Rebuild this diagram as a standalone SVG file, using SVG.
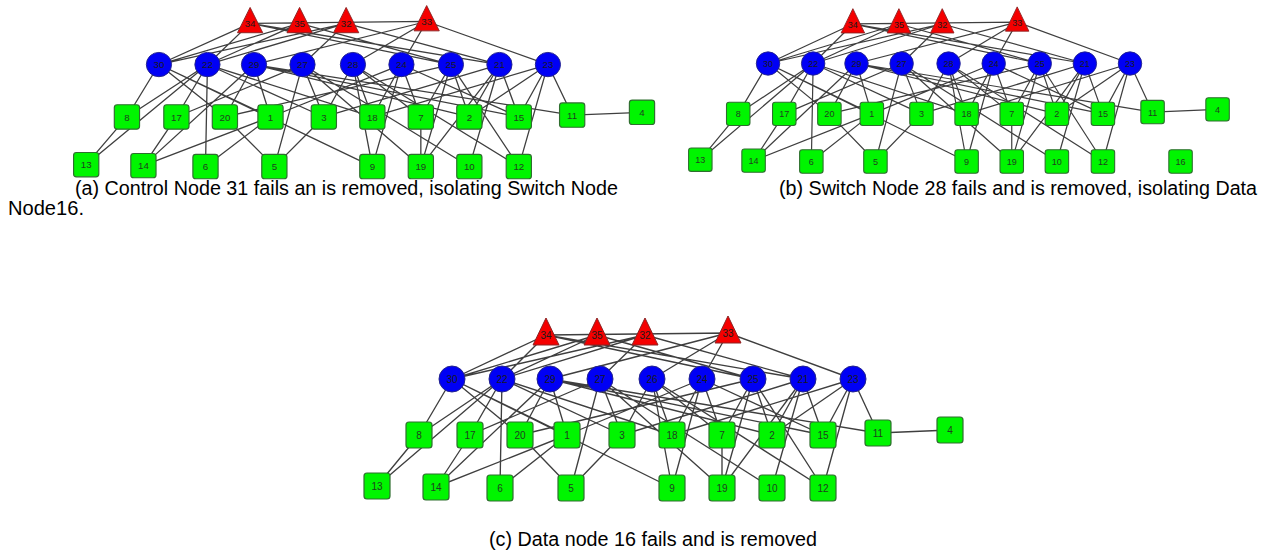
<svg xmlns="http://www.w3.org/2000/svg" width="1270" height="552" viewBox="0 0 1270 552">
<style>
.e path{stroke:#3f3f3f;stroke-width:1.35;fill:none}
.c{fill:#0000f5;stroke:#23238c;stroke-width:1}
.t{fill:#f50000;stroke:#8c2323;stroke-width:1}
.s{fill:#00f500;stroke:#2f6e2f;stroke-width:1.2}
text.l{font-family:"Liberation Sans",Arial,sans-serif;font-size:10px;text-anchor:middle;fill:#1a1a1a}
text.d{fill:#1f3f1f}
.cap{font-family:"Liberation Sans Narrow","Liberation Sans",Arial,sans-serif;font-size:20px;fill:#000}
</style>
<rect width="1270" height="552" fill="#fff"/>

<!-- Panel (a) -->
<g id="panel-a" transform="matrix(0.970 0 0 0.936 -279.5 -290.2)">
<g id="a-edges" class="e">
<path d="M546 335L452 379M546 335L502 379M546 335L753 379M546 335L803 379M546 335L728 333M597 335L452 379M597 335L502 379M597 335L753 379M645 335L502 379M645 335L452 379M645 335L600 379M645 335L803 379M728 333L550 379M728 333L652 379M728 333L702 379M728 333L853 379"/>
<path d="M452 379L419 435M452 379L520 435M452 379L567 435M452 379L672 488M502 379L419 435M502 379L377 486M502 379L470 435M502 379L500 488M502 379L622 435M502 379L672 435M550 379L436 487M550 379L520 435M550 379L567 435M550 379L878 433M550 379L772 435M550 379L823 435M600 379L470 435M600 379L571 488M600 379L622 435M600 379L722 488M600 379L772 488"/>
<path d="M652 379L622 435M652 379L672 435M652 379L722 435M652 379L823 488M652 379L672 488M702 379L672 488M702 379L672 435M702 379L722 435M702 379L567 435M702 379L823 435M753 379L722 435M753 379L772 435M753 379L722 488M753 379L520 435M753 379L823 488M803 379L772 435M803 379L823 435M803 379L772 488M803 379L722 488M803 379L622 435M853 379L772 435M853 379L823 435M853 379L878 433M853 379L823 488M853 379L672 435"/>
<path d="M377 486L419 435M436 487L470 435M436 487L567 435M500 488L567 435M571 488L520 435M571 488L622 435M878 433L950 430M722 488L722 435"/>
</g>
<g id="a-n34"><path class="t" d="M546 318L559 345L533 345Z"/><text class="l" x="546" y="339">34</text></g>
<g id="a-n35"><path class="t" d="M597 318L610 345L584 345Z"/><text class="l" x="597" y="339">35</text></g>
<g id="a-n32"><path class="t" d="M645 318L658 345L632 345Z"/><text class="l" x="645" y="339">32</text></g>
<g id="a-n33"><path class="t" d="M728 316L741 343L715 343Z"/><text class="l" x="728" y="337">33</text></g>
<g id="a-n30"><circle class="c" cx="452" cy="379" r="13"/><text class="l" x="452" y="383">30</text></g>
<g id="a-n22"><circle class="c" cx="502" cy="379" r="13"/><text class="l" x="502" y="383">22</text></g>
<g id="a-n29"><circle class="c" cx="550" cy="379" r="13"/><text class="l" x="550" y="383">29</text></g>
<g id="a-n27"><circle class="c" cx="600" cy="379" r="13"/><text class="l" x="600" y="383">27</text></g>
<g id="a-n28"><circle class="c" cx="652" cy="379" r="13"/><text class="l" x="652" y="383">28</text></g>
<g id="a-n24"><circle class="c" cx="702" cy="379" r="13"/><text class="l" x="702" y="383">24</text></g>
<g id="a-n25"><circle class="c" cx="753" cy="379" r="13"/><text class="l" x="753" y="383">25</text></g>
<g id="a-n21"><circle class="c" cx="803" cy="379" r="13"/><text class="l" x="803" y="383">21</text></g>
<g id="a-n23"><circle class="c" cx="853" cy="379" r="13"/><text class="l" x="853" y="383">23</text></g>
<g id="a-n8"><rect class="s" x="406" y="422" width="26" height="26" rx="3"/><text class="l d" x="419" y="439">8</text></g>
<g id="a-n17"><rect class="s" x="457" y="422" width="26" height="26" rx="3"/><text class="l d" x="470" y="439">17</text></g>
<g id="a-n20"><rect class="s" x="507" y="422" width="26" height="26" rx="3"/><text class="l d" x="520" y="439">20</text></g>
<g id="a-n1"><rect class="s" x="554" y="422" width="26" height="26" rx="3"/><text class="l d" x="567" y="439">1</text></g>
<g id="a-n3"><rect class="s" x="609" y="422" width="26" height="26" rx="3"/><text class="l d" x="622" y="439">3</text></g>
<g id="a-n18"><rect class="s" x="659" y="422" width="26" height="26" rx="3"/><text class="l d" x="672" y="439">18</text></g>
<g id="a-n7"><rect class="s" x="709" y="422" width="26" height="26" rx="3"/><text class="l d" x="722" y="439">7</text></g>
<g id="a-n2"><rect class="s" x="759" y="422" width="26" height="26" rx="3"/><text class="l d" x="772" y="439">2</text></g>
<g id="a-n15"><rect class="s" x="810" y="422" width="26" height="26" rx="3"/><text class="l d" x="823" y="439">15</text></g>
<g id="a-n11"><rect class="s" x="865" y="420" width="26" height="26" rx="3"/><text class="l d" x="878" y="437">11</text></g>
<g id="a-n4"><rect class="s" x="937" y="417" width="26" height="26" rx="3"/><text class="l d" x="950" y="434">4</text></g>
<g id="a-n13"><rect class="s" x="364" y="473" width="26" height="26" rx="3"/><text class="l d" x="377" y="490">13</text></g>
<g id="a-n14"><rect class="s" x="423" y="474" width="26" height="26" rx="3"/><text class="l d" x="436" y="491">14</text></g>
<g id="a-n6"><rect class="s" x="487" y="475" width="26" height="26" rx="3"/><text class="l d" x="500" y="492">6</text></g>
<g id="a-n5"><rect class="s" x="558" y="475" width="26" height="26" rx="3"/><text class="l d" x="571" y="492">5</text></g>
<g id="a-n9"><rect class="s" x="659" y="475" width="26" height="26" rx="3"/><text class="l d" x="672" y="492">9</text></g>
<g id="a-n19"><rect class="s" x="709" y="475" width="26" height="26" rx="3"/><text class="l d" x="722" y="492">19</text></g>
<g id="a-n10"><rect class="s" x="759" y="475" width="26" height="26" rx="3"/><text class="l d" x="772" y="492">10</text></g>
<g id="a-n12"><rect class="s" x="810" y="475" width="26" height="26" rx="3"/><text class="l d" x="823" y="492">12</text></g>
</g>

<!-- Panel (b) -->
<g id="panel-b" transform="matrix(0.9027 0 0 0.899 360 -277.2)">
<g id="b-edges" class="e">
<path d="M546 335L452 379M546 335L502 379M546 335L753 379M546 335L803 379M546 335L728 333M597 335L452 379M597 335L502 379M597 335L753 379M645 335L502 379M645 335L452 379M645 335L600 379M645 335L803 379M728 333L550 379M728 333L652 379M728 333L702 379M728 333L853 379"/>
<path d="M452 379L419 435M452 379L520 435M452 379L567 435M452 379L672 488M502 379L419 435M502 379L377 486M502 379L470 435M502 379L500 488M502 379L622 435M502 379L672 435M550 379L436 487M550 379L520 435M550 379L567 435M550 379L878 433M550 379L772 435M550 379L823 435M600 379L470 435M600 379L571 488M600 379L622 435M600 379L722 488M600 379L772 488"/>
<path d="M652 379L622 435M652 379L672 435M652 379L722 435M652 379L823 488M652 379L672 488M702 379L672 488M702 379L672 435M702 379L722 435M702 379L567 435M702 379L823 435M753 379L722 435M753 379L772 435M753 379L722 488M753 379L520 435M753 379L823 488M803 379L772 435M803 379L823 435M803 379L772 488M803 379L722 488M803 379L622 435M853 379L772 435M853 379L823 435M853 379L878 433M853 379L823 488M853 379L672 435"/>
<path d="M377 486L419 435M436 487L470 435M436 487L567 435M500 488L567 435M571 488L520 435M571 488L622 435M878 433L950 430M722 488L722 435"/>
</g>
<g id="b-n34"><path class="t" d="M546 318L559 345L533 345Z"/><text class="l" x="546" y="339">34</text></g>
<g id="b-n35"><path class="t" d="M597 318L610 345L584 345Z"/><text class="l" x="597" y="339">35</text></g>
<g id="b-n32"><path class="t" d="M645 318L658 345L632 345Z"/><text class="l" x="645" y="339">32</text></g>
<g id="b-n33"><path class="t" d="M728 316L741 343L715 343Z"/><text class="l" x="728" y="337">33</text></g>
<g id="b-n30"><circle class="c" cx="452" cy="379" r="13"/><text class="l" x="452" y="383">30</text></g>
<g id="b-n22"><circle class="c" cx="502" cy="379" r="13"/><text class="l" x="502" y="383">22</text></g>
<g id="b-n29"><circle class="c" cx="550" cy="379" r="13"/><text class="l" x="550" y="383">29</text></g>
<g id="b-n27"><circle class="c" cx="600" cy="379" r="13"/><text class="l" x="600" y="383">27</text></g>
<g id="b-n28"><circle class="c" cx="652" cy="379" r="13"/><text class="l" x="652" y="383">28</text></g>
<g id="b-n24"><circle class="c" cx="702" cy="379" r="13"/><text class="l" x="702" y="383">24</text></g>
<g id="b-n25"><circle class="c" cx="753" cy="379" r="13"/><text class="l" x="753" y="383">25</text></g>
<g id="b-n21"><circle class="c" cx="803" cy="379" r="13"/><text class="l" x="803" y="383">21</text></g>
<g id="b-n23"><circle class="c" cx="853" cy="379" r="13"/><text class="l" x="853" y="383">23</text></g>
<g id="b-n8"><rect class="s" x="406" y="422" width="26" height="26" rx="3"/><text class="l d" x="419" y="439">8</text></g>
<g id="b-n17"><rect class="s" x="457" y="422" width="26" height="26" rx="3"/><text class="l d" x="470" y="439">17</text></g>
<g id="b-n20"><rect class="s" x="507" y="422" width="26" height="26" rx="3"/><text class="l d" x="520" y="439">20</text></g>
<g id="b-n1"><rect class="s" x="554" y="422" width="26" height="26" rx="3"/><text class="l d" x="567" y="439">1</text></g>
<g id="b-n3"><rect class="s" x="609" y="422" width="26" height="26" rx="3"/><text class="l d" x="622" y="439">3</text></g>
<g id="b-n18"><rect class="s" x="659" y="422" width="26" height="26" rx="3"/><text class="l d" x="672" y="439">18</text></g>
<g id="b-n7"><rect class="s" x="709" y="422" width="26" height="26" rx="3"/><text class="l d" x="722" y="439">7</text></g>
<g id="b-n2"><rect class="s" x="759" y="422" width="26" height="26" rx="3"/><text class="l d" x="772" y="439">2</text></g>
<g id="b-n15"><rect class="s" x="810" y="422" width="26" height="26" rx="3"/><text class="l d" x="823" y="439">15</text></g>
<g id="b-n11"><rect class="s" x="865" y="420" width="26" height="26" rx="3"/><text class="l d" x="878" y="437">11</text></g>
<g id="b-n4"><rect class="s" x="937" y="417" width="26" height="26" rx="3"/><text class="l d" x="950" y="434">4</text></g>
<g id="b-n13"><rect class="s" x="364" y="473" width="26" height="26" rx="3"/><text class="l d" x="377" y="490">13</text></g>
<g id="b-n14"><rect class="s" x="423" y="474" width="26" height="26" rx="3"/><text class="l d" x="436" y="491">14</text></g>
<g id="b-n6"><rect class="s" x="487" y="475" width="26" height="26" rx="3"/><text class="l d" x="500" y="492">6</text></g>
<g id="b-n5"><rect class="s" x="558" y="475" width="26" height="26" rx="3"/><text class="l d" x="571" y="492">5</text></g>
<g id="b-n9"><rect class="s" x="659" y="475" width="26" height="26" rx="3"/><text class="l d" x="672" y="492">9</text></g>
<g id="b-n19"><rect class="s" x="709" y="475" width="26" height="26" rx="3"/><text class="l d" x="722" y="492">19</text></g>
<g id="b-n10"><rect class="s" x="759" y="475" width="26" height="26" rx="3"/><text class="l d" x="772" y="492">10</text></g>
<g id="b-n12"><rect class="s" x="810" y="475" width="26" height="26" rx="3"/><text class="l d" x="823" y="492">12</text></g>
<g id="b-n16"><rect class="s" x="896" y="475" width="26" height="26" rx="3"/><text class="l d" x="909" y="492">16</text></g>
</g>

<!-- Panel (c) -->
<g id="panel-c">
<g id="c-edges" class="e">
<path d="M546 335L452 379M546 335L502 379M546 335L753 379M546 335L803 379M546 335L728 333M597 335L452 379M597 335L502 379M597 335L753 379M645 335L502 379M645 335L452 379M645 335L600 379M645 335L803 379M728 333L550 379M728 333L652 379M728 333L702 379M728 333L853 379"/>
<path d="M452 379L419 435M452 379L520 435M452 379L567 435M452 379L672 488M502 379L419 435M502 379L377 486M502 379L470 435M502 379L500 488M502 379L622 435M502 379L672 435M550 379L436 487M550 379L520 435M550 379L567 435M550 379L878 433M550 379L772 435M550 379L823 435M600 379L470 435M600 379L571 488M600 379L622 435M600 379L722 488M600 379L772 488"/>
<path d="M652 379L622 435M652 379L672 435M652 379L722 435M652 379L823 488M652 379L672 488M702 379L672 488M702 379L672 435M702 379L722 435M702 379L567 435M702 379L823 435M753 379L722 435M753 379L772 435M753 379L722 488M753 379L520 435M753 379L823 488M803 379L772 435M803 379L823 435M803 379L772 488M803 379L722 488M803 379L622 435M853 379L772 435M853 379L823 435M853 379L878 433M853 379L823 488M853 379L672 435"/>
<path d="M377 486L419 435M436 487L470 435M436 487L567 435M500 488L567 435M571 488L520 435M571 488L622 435M878 433L950 430M722 488L722 435"/>
</g>
<g id="c-n34"><path class="t" d="M546 318L559 345L533 345Z"/><text class="l" x="546" y="339">34</text></g>
<g id="c-n35"><path class="t" d="M597 318L610 345L584 345Z"/><text class="l" x="597" y="339">35</text></g>
<g id="c-n32"><path class="t" d="M645 318L658 345L632 345Z"/><text class="l" x="645" y="339">32</text></g>
<g id="c-n33"><path class="t" d="M728 316L741 343L715 343Z"/><text class="l" x="728" y="337">33</text></g>
<g id="c-n30"><circle class="c" cx="452" cy="379" r="13"/><text class="l" x="452" y="383">30</text></g>
<g id="c-n22"><circle class="c" cx="502" cy="379" r="13"/><text class="l" x="502" y="383">22</text></g>
<g id="c-n29"><circle class="c" cx="550" cy="379" r="13"/><text class="l" x="550" y="383">29</text></g>
<g id="c-n27"><circle class="c" cx="600" cy="379" r="13"/><text class="l" x="600" y="383">27</text></g>
<g id="c-n26"><circle class="c" cx="652" cy="379" r="13"/><text class="l" x="652" y="383">26</text></g>
<g id="c-n24"><circle class="c" cx="702" cy="379" r="13"/><text class="l" x="702" y="383">24</text></g>
<g id="c-n25"><circle class="c" cx="753" cy="379" r="13"/><text class="l" x="753" y="383">25</text></g>
<g id="c-n21"><circle class="c" cx="803" cy="379" r="13"/><text class="l" x="803" y="383">21</text></g>
<g id="c-n23"><circle class="c" cx="853" cy="379" r="13"/><text class="l" x="853" y="383">23</text></g>
<g id="c-n8"><rect class="s" x="406" y="422" width="26" height="26" rx="3"/><text class="l d" x="419" y="439">8</text></g>
<g id="c-n17"><rect class="s" x="457" y="422" width="26" height="26" rx="3"/><text class="l d" x="470" y="439">17</text></g>
<g id="c-n20"><rect class="s" x="507" y="422" width="26" height="26" rx="3"/><text class="l d" x="520" y="439">20</text></g>
<g id="c-n1"><rect class="s" x="554" y="422" width="26" height="26" rx="3"/><text class="l d" x="567" y="439">1</text></g>
<g id="c-n3"><rect class="s" x="609" y="422" width="26" height="26" rx="3"/><text class="l d" x="622" y="439">3</text></g>
<g id="c-n18"><rect class="s" x="659" y="422" width="26" height="26" rx="3"/><text class="l d" x="672" y="439">18</text></g>
<g id="c-n7"><rect class="s" x="709" y="422" width="26" height="26" rx="3"/><text class="l d" x="722" y="439">7</text></g>
<g id="c-n2"><rect class="s" x="759" y="422" width="26" height="26" rx="3"/><text class="l d" x="772" y="439">2</text></g>
<g id="c-n15"><rect class="s" x="810" y="422" width="26" height="26" rx="3"/><text class="l d" x="823" y="439">15</text></g>
<g id="c-n11"><rect class="s" x="865" y="420" width="26" height="26" rx="3"/><text class="l d" x="878" y="437">11</text></g>
<g id="c-n4"><rect class="s" x="937" y="417" width="26" height="26" rx="3"/><text class="l d" x="950" y="434">4</text></g>
<g id="c-n13"><rect class="s" x="364" y="473" width="26" height="26" rx="3"/><text class="l d" x="377" y="490">13</text></g>
<g id="c-n14"><rect class="s" x="423" y="474" width="26" height="26" rx="3"/><text class="l d" x="436" y="491">14</text></g>
<g id="c-n6"><rect class="s" x="487" y="475" width="26" height="26" rx="3"/><text class="l d" x="500" y="492">6</text></g>
<g id="c-n5"><rect class="s" x="558" y="475" width="26" height="26" rx="3"/><text class="l d" x="571" y="492">5</text></g>
<g id="c-n9"><rect class="s" x="659" y="475" width="26" height="26" rx="3"/><text class="l d" x="672" y="492">9</text></g>
<g id="c-n19"><rect class="s" x="709" y="475" width="26" height="26" rx="3"/><text class="l d" x="722" y="492">19</text></g>
<g id="c-n10"><rect class="s" x="759" y="475" width="26" height="26" rx="3"/><text class="l d" x="772" y="492">10</text></g>
<g id="c-n12"><rect class="s" x="810" y="475" width="26" height="26" rx="3"/><text class="l d" x="823" y="492">12</text></g>
</g>

<!-- Captions -->
<text class="cap" x="75" y="195" textLength="543" lengthAdjust="spacingAndGlyphs">(a) Control Node 31 fails an is removed, isolating Switch Node</text>
<text class="cap" x="8" y="215" textLength="76" lengthAdjust="spacingAndGlyphs">Node16.</text>
<text class="cap" x="779" y="195" textLength="478" lengthAdjust="spacingAndGlyphs">(b) Switch Node 28 fails and is removed, isolating Data</text>
<text class="cap" x="489" y="546" textLength="328" lengthAdjust="spacingAndGlyphs">(c) Data node 16 fails and is removed</text>
</svg>
